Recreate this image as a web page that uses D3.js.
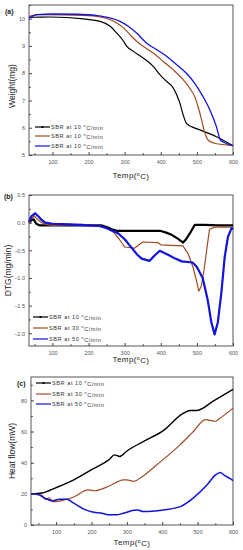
<!DOCTYPE html>
<html>
<head>
<meta charset="utf-8">
<script src="https://cdn.jsdelivr.net/npm/d3@7"></script>
<style>
  body { margin: 0; background: #fff; }
  svg { display: block; font-family: "Liberation Sans", Arial, sans-serif; }
</style>
</head>
<body>
<div id="chart"></div>
<script>
// Data (temperature in degC)

// (a) TGA weight curves, mg
const tgaTempBlack = [35, 44, 94, 186, 232, 260, 278, 297, 306, 324, 352, 379, 398, 416, 435, 444, 453, 462, 471, 485, 508, 554, 600];
const tgaBlack = [10.05, 10.05, 10.06, 9.99, 9.9, 9.72, 9.47, 9.17, 8.98, 8.8, 8.55, 8.25, 7.94, 7.7, 7.45, 7.21, 6.9, 6.47, 6.16, 6.04, 5.92, 5.67, 5.34];
const tgaTempBrown = [35, 60, 186, 232, 260, 278, 297, 315, 333, 352, 379, 407, 435, 462, 480, 494, 503, 513, 522, 531, 549, 582, 600];
const tgaBrown = [10.08, 10.15, 10.12, 10.06, 9.96, 9.84, 9.66, 9.41, 9.17, 8.98, 8.74, 8.43, 8.12, 7.76, 7.45, 7.14, 6.78, 6.29, 5.8, 5.55, 5.43, 5.37, 5.34];
const tgaTempBlue = [35, 58, 100, 168, 223, 260, 287, 310, 333, 361, 389, 416, 444, 471, 494, 517, 536, 554, 565, 577, 600];
const tgaBlue = [10.02, 10.15, 10.17, 10.16, 10.11, 10.02, 9.9, 9.72, 9.47, 9.1, 8.86, 8.62, 8.31, 8.0, 7.63, 7.14, 6.65, 6.04, 5.55, 5.45, 5.34];

// (b) DTG curves, mg/min
const dtgTempBlack = [35, 42, 48, 55, 65, 100, 150, 200, 235, 250, 265, 281, 300, 350, 400, 415, 430, 445, 462, 470, 480, 494, 520, 560, 600];
const dtgBlack = [0.0, 0.05, 0.06, -0.02, -0.05, -0.05, -0.05, -0.05, -0.05, -0.08, -0.12, -0.15, -0.15, -0.15, -0.15, -0.18, -0.22, -0.28, -0.36, -0.3, -0.2, -0.04, -0.04, -0.05, -0.05];
const dtgTempBrown = [35, 42, 50, 58, 70, 85, 100, 150, 180, 230, 250, 270, 285, 300, 328, 350, 392, 400, 461, 475, 490, 500, 505, 512, 520, 528, 535, 550, 600];
const dtgBrown = [0.0, 0.08, 0.12, 0.06, 0.0, -0.04, -0.05, -0.04, -0.03, -0.05, -0.1, -0.18, -0.3, -0.44, -0.46, -0.35, -0.36, -0.4, -0.42, -0.55, -0.82, -1.08, -1.24, -1.15, -0.85, -0.45, -0.12, -0.08, -0.08];
const dtgTempBlue = [35, 42, 52, 60, 70, 80, 100, 150, 200, 230, 250, 265, 281, 300, 320, 335, 347, 369, 385, 397, 420, 440, 458, 488, 500, 516, 530, 540, 549, 558, 568, 577, 586, 596, 600];
const dtgBlue = [0.02, 0.12, 0.17, 0.12, 0.05, 0.0, -0.02, -0.03, -0.05, -0.06, -0.1, -0.14, -0.19, -0.3, -0.46, -0.58, -0.65, -0.69, -0.58, -0.51, -0.58, -0.65, -0.7, -0.72, -0.8, -1.0, -1.4, -1.8, -2.02, -1.8, -1.25, -0.62, -0.26, -0.1, -0.12];

// (c) Heat flow curves, mW
const hfTempBlack = [30, 60, 100, 150, 200, 250, 265, 280, 300, 350, 403, 459, 479, 498, 544, 600];
const hfBlack = [20, 20.5, 24, 29, 35.5, 42, 45, 44, 47.5, 54, 60.6, 71.6, 73.5, 73.5, 79.5, 87];
const hfTempBrown = [30, 60, 70, 80, 90, 100, 120, 150, 190, 210, 250, 290, 300, 320, 340, 385, 451, 488, 522, 550, 560, 600];
const hfBrown = [20, 19, 16.5, 17.5, 15, 15, 16, 18, 22.5, 22, 25, 29, 29, 28, 30.5, 38.7, 51.6, 60, 67.7, 66.6, 68, 75];
const hfTempBlue = [30, 50, 70, 90, 110, 130, 150, 180, 200, 230, 250, 270, 290, 320, 330, 346, 403, 451, 488, 527, 550, 564, 575, 592, 600];
const hfBlue = [20, 19.5, 17, 15.5, 16.5, 16.5, 14, 10, 8.5, 7.5, 6.5, 6.5, 7.5, 9.5, 9.7, 8.6, 9.7, 11.8, 17.4, 25.8, 32, 33.7, 32, 29.7, 28.5];

// Tick labels and legend text
const tempTicks = [100, 200, 300, 400, 500, 600];
const weightTicks = [5, 6, 7, 8, 9, 10];
const dtgTicks = [0.5, 0.0, -0.5, -1.0, -1.5, -2.0];
const hfTicks = [0, 20, 40, 60, 80];
const legendA = ["SBR at 10 ", "SBR at 10 ", "SBR at 10 "];
const legendB = ["SBR at 10 ", "SBR at 30 ", "SBR at 50 "];
const seriesColors = ["#000000", "#a24b22", "#1212dd"];

const W = 243, H = 550;

const svg = d3.select("#chart")
  .append("svg")
  .attr("width", W)
  .attr("height", H);

// helper: text with raised degree sign, e.g. "Temp(°C)"
function degText(sel, before, after) {
  sel.append("tspan").text(before);
  sel.append("tspan").attr("dy", "-0.45em").style("font-size", "0.65em").text("o");
  sel.append("tspan").attr("dy", "0.45em").text(after);
}

//Draw one panel

function drawPanel(p) {
  const g = svg.append("g");
  const x = d3.scaleLinear().domain(p.xDomain).range([p.left, p.right]);
  const y = d3.scaleLinear().domain(p.yDomain).range([p.bottom, p.top]);

  // frame
  g.append("rect")
    .attr("x", p.left).attr("y", p.top)
    .attr("width", p.right - p.left).attr("height", p.bottom - p.top)
    .attr("fill", "none").attr("stroke", "#444").attr("stroke-width", 0.9);

  // minor ticks
  g.append("g")
    .attr("transform", `translate(0,${p.bottom})`)
    .call(d3.axisBottom(x).tickValues(d3.range(50, 601, 100)).tickSize(-1.8).tickFormat(""))
    .call((a) => a.select(".domain").remove())
    .selectAll("line").attr("stroke", "#444");
  g.append("g")
    .attr("transform", `translate(${p.left},0)`)
    .call(d3.axisLeft(y).tickValues(p.yMinor).tickSize(-1.8).tickFormat(""))
    .call((a) => a.select(".domain").remove())
    .selectAll("line").attr("stroke", "#444");

  // x axis
  const xa = g.append("g")
    .attr("transform", `translate(0,${p.bottom})`)
    .call(d3.axisBottom(x).tickValues(tempTicks).tickSize(-3).tickPadding(5).tickFormat(d3.format("d")));
  xa.select(".domain").remove();
  xa.selectAll("line").attr("stroke", "#444");
  xa.selectAll("text").style("font-size", "5.5px").attr("fill", "#555");

  // y axis
  const ya = g.append("g")
    .attr("transform", `translate(${p.left},0)`)
    .call(d3.axisLeft(y).tickValues(p.yTicks).tickSize(-3).tickPadding(4).tickFormat(p.yFormat));
  ya.select(".domain").remove();
  ya.selectAll("line").attr("stroke", "#444");
  ya.selectAll("text").style("font-size", "5.5px").attr("fill", "#555");

  // curves
  const line = d3.line()
    .x((d) => x(d[0]))
    .y((d) => y(d[1]))
    .curve(p.curve);

  p.series.forEach((s, i) => {
    g.append("path")
      .datum(d3.zip(s.t, s.v))
      .attr("d", line)
      .attr("fill", "none")
      .attr("stroke", seriesColors[i])
      .attr("stroke-width", p.widths[i])
      .attr("stroke-linejoin", "round");
  });

  // legend
  p.legend.forEach((txt, i) => {
    const ly = p.legendY[i];
    g.append("line")
      .attr("x1", p.legendX).attr("x2", p.legendX + 15)
      .attr("y1", ly).attr("y2", ly)
      .attr("stroke", seriesColors[i]).attr("stroke-width", 1.2);
    if (i === 0) {
      g.append("rect")
        .attr("x", p.legendX + 6.5).attr("y", ly - 1)
        .attr("width", 2).attr("height", 2).attr("fill", seriesColors[i]);
    }
    const t = g.append("text")
      .attr("x", p.legendX + 16)
      .attr("y", ly + 2)
      .style("font-size", "5.6px")
      .style("letter-spacing", "0.55px")
      .attr("fill", "#333");
    degText(t, txt, "C/min");
  });

  // panel tag
  g.append("text")
    .attr("x", p.tagX).attr("y", p.tagY)
    .style("font-size", "7px").style("font-weight", "bold")
    .attr("fill", "#222")
    .text(p.tag);

  // x title
  const xt = g.append("text")
    .attr("x", (p.left + p.right) / 2)
    .attr("y", p.xTitleY)
    .attr("text-anchor", "middle")
    .style("font-size", "8px")
    .style("letter-spacing", "0.4px")
    .attr("fill", "#222");
  degText(xt, "Temp(", "C)");

  // y title
  g.append("text")
    .attr("transform", `translate(${p.yTitleX},${(p.top + p.bottom) / 2 + p.yTitleShift}) rotate(-90)`)
    .attr("text-anchor", "middle")
    .style("font-size", "8.5px")
    .attr("fill", "#222")
    .text(p.yTitle);
}

// (a) weight
drawPanel({
  left: 29, right: 233, top: 5, bottom: 155,
  xDomain: [35, 600], yDomain: [5, 10.5],
  yTicks: weightTicks, yMinor: [5.5, 6.5, 7.5, 8.5, 9.5, 10.5], yFormat: d3.format("d"),
  curve: d3.curveMonotoneX, widths: [1.2, 1.2, 1.3],
  series: [
    { t: tgaTempBlack, v: tgaBlack },
    { t: tgaTempBrown, v: tgaBrown },
    { t: tgaTempBlue, v: tgaBlue }
  ],
  legend: legendA, legendX: 35, legendY: [127, 136, 146],
  tag: "(a)", tagX: 5, tagY: 14,
  xTitleY: 178, yTitle: "Weight(mg)", yTitleX: 15, yTitleShift: 6
});

// (b) DTG
drawPanel({
  left: 29, right: 233, top: 195, bottom: 346,
  xDomain: [35, 600], yDomain: [-2.23, 0.5],
  yTicks: dtgTicks, yMinor: [0.25, -0.25, -0.75, -1.25, -1.75], yFormat: d3.format(".1f"),
  curve: d3.curveLinear, widths: [2.2, 1.2, 2.2],
  series: [
    { t: dtgTempBlack, v: dtgBlack },
    { t: dtgTempBrown, v: dtgBrown },
    { t: dtgTempBlue, v: dtgBlue }
  ],
  legend: legendB, legendX: 33, legendY: [317, 328, 339],
  tag: "(b)", tagX: 4, tagY: 199,
  xTitleY: 362, yTitle: "DTG(mg/min)", yTitleX: 11, yTitleShift: 0
});

// (c) heat flow
drawPanel({
  left: 31, right: 233, top: 377, bottom: 525,
  xDomain: [29, 600], yDomain: [0, 95],
  yTicks: hfTicks, yMinor: [10, 30, 50, 70, 90], yFormat: d3.format("d"),
  curve: d3.curveMonotoneX, widths: [1.4, 1.2, 1.5],
  series: [
    { t: hfTempBlack, v: hfBlack },
    { t: hfTempBrown, v: hfBrown },
    { t: hfTempBlue, v: hfBlue }
  ],
  legend: legendB, legendX: 36, legendY: [383, 394, 404],
  tag: "(c)", tagX: 17, tagY: 386,
  xTitleY: 545, yTitle: "Heat flow(mW)", yTitleX: 15, yTitleShift: 0
});
</script>
</body>
</html>
